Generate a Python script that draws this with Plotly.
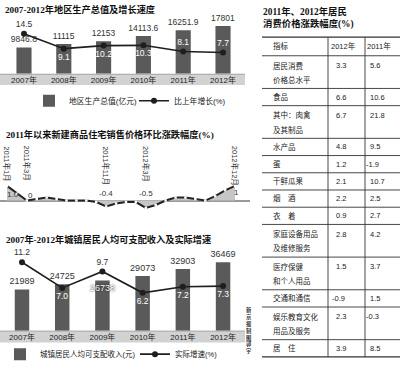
import plotly.graph_objects as go

W, H = 400, 369


def fx(x):
    return x / W


def fy(y):
    return 1 - y / H


# ---------------- data ----------------
years = ['2007年', '2008年', '2009年', '2010年', '2011年', '2012年']
gdp = [9846.8, 11115, 12153, 14113.6, 16251.9, 17801]
gdp_growth = [14.5, 9.1, 10.2, 10.3, 8.1, 7.7]

months = ['2011年1月', '2011年2月', '2011年3月', '2011年4月', '2011年5月', '2011年6月',
          '2011年7月', '2011年8月', '2011年9月', '2011年10月', '2011年11月', '2011年12月',
          '2012年1月', '2012年2月', '2012年3月', '2012年4月', '2012年5月', '2012年6月',
          '2012年7月', '2012年8月', '2012年9月', '2012年10月', '2012年11月', '2012年12月']
price_mom = [1.0, 0.5, 0.0, 0.1, 0.2, 0.1, 0.0, 0.0, 0.0, -0.1, -0.4, -0.2,
             -0.1, -0.1, -0.5, -0.3, 0.0, 0.2, 0.2, 0.1, 0.0, 0.3, 0.7, 1.0]
price_marked = ['2011年1月', '2011年3月', '2011年11月', '2012年3月', '2012年12月']
price_marked_text = ['1.0', '0', '-0.4', '-0.5', '1']

income = [21989, 24725, 26738, 29073, 32903, 36469]
income_growth = [11.2, 7.0, 9.7, 6.2, 7.2, 7.3]

cpi_items = [['居民消费', '价格总水平'], ['食品'], ['其中：肉禽', '及其制品'], ['水产品'], ['蛋'],
             ['干鲜瓜果'], ['烟　酒'], ['衣　着'], ['家庭设备用品', '及维修服务'],
             ['医疗保健', '和个人用品'], ['交通和通信'], ['娱乐教育文化', '用品及服务'], ['居　住']]
cpi_2012 = [3.3, 6.6, 6.7, 4.8, 1.2, 2.1, 2.2, 0.9, 2.8, 1.5, -0.9, 2.3, 3.9]
cpi_2011 = [5.6, 10.6, 21.8, 9.5, -1.9, 10.7, 2.5, 2.7, 4.2, 3.7, 1.5, -0.3, 8.5]
cpi_header = ['指标', '2012年', '2011年']

# ---------------- styles ----------------
SANS = 'Liberation Sans, Noto Sans CJK SC'
TITLE = 'Liberation Serif, Noto Sans CJK SC'
BAR = '#5a5a5a'
INK = '#1e1e1e'

fig = go.Figure()

# ---------- chart 1 ----------
fig.add_trace(go.Bar(
    x=years, y=gdp, xaxis='x', yaxis='y', name='地区生产总值(亿元)',
    marker=dict(color=BAR, line=dict(width=0)), width=0.38,
    text=[f'{v:g}' for v in gdp], textposition='outside', cliponaxis=False,
    constraintext='none', textangle=0,
    textfont=dict(size=8.5, color='#333', family=SANS), legend='legend'))
fig.add_trace(go.Scatter(
    x=years, y=gdp_growth, xaxis='x', yaxis='y2', name='比上年增长(%)',
    mode='lines+markers+text', line=dict(color=INK, width=1.6),
    marker=dict(size=6, color=INK), cliponaxis=False,
    text=[f'{v:g}' for v in gdp_growth],
    textposition=['top center', 'bottom center', 'bottom center', 'bottom center',
                  'top center', 'top center'],
    textfont=dict(size=8.5, family=SANS,
                  color=['#333', 'white', 'white', 'white', 'white', 'white']),
    legend='legend'))

# ---------- chart 2 ----------
fig.add_trace(go.Scatter(
    x=months, y=price_mom, xaxis='x2', yaxis='y3', mode='lines+markers',
    line=dict(color='#222', width=2), fill='tozeroy', fillcolor='#c6c6c6',
    marker=dict(size=2.5, color='white', symbol='square'), showlegend=False))

# ---------- chart 3 ----------
fig.add_trace(go.Bar(
    x=years, y=income, xaxis='x3', yaxis='y4', name='城镇居民人均可支配收入(元)',
    marker=dict(color=BAR, line=dict(width=0)), width=0.36,
    text=[f'{v:g}' for v in income],
    textposition=['outside', 'outside', 'inside', 'outside', 'outside', 'outside'],
    insidetextanchor='end', cliponaxis=False, constraintext='none', textangle=0,
    textfont=dict(size=9, family=SANS, color='#333'),
    outsidetextfont=dict(size=9, family=SANS, color='#333'),
    insidetextfont=dict(size=9, family=SANS, color='white', shadow='0px 0px 2px #000'),
    legend='legend2'))
fig.add_trace(go.Scatter(
    x=years, y=income_growth, xaxis='x3', yaxis='y5', name='实际增速(%)',
    mode='lines+markers+text', line=dict(color=INK, width=1.6),
    marker=dict(size=6, color=INK), cliponaxis=False,
    text=[f'{v:.1f}' for v in income_growth],
    textposition=['top center', 'bottom center', 'top center', 'bottom center',
                  'bottom center', 'bottom center'],
    textfont=dict(size=8.5, family=SANS,
                  color=['#333', 'white', '#333', 'white', 'white', 'white']),
    legend='legend2'))

# ---------- table (pixel-like axis; cells as annotations on that axis) ----------
HEAD_TOP, HEAD_H, LINE_H, DOUBLE_H = 38, 19, 17.6, 33.4
NAME_X, HEAD_X, VAL_X = 272, [330, 366], [335, 369]
NEG_SHIFT = 4
LINE_L, LINE_R = 262, 400
VLINES = [328, 365]

# invisible anchor trace so the table axes exist
fig.add_trace(go.Scatter(x=[LINE_L, LINE_R], y=[HEAD_TOP, HEAD_TOP], mode='lines',
                         line=dict(width=0), xaxis='x4', yaxis='y6', showlegend=False,
                         hoverinfo='skip'))

row_tops = [HEAD_TOP + HEAD_H]
for it in cpi_items:
    row_tops.append(row_tops[-1] + (LINE_H if len(it) == 1 else DOUBLE_H))

annotations = []
cell_font = dict(size=7.5, family=SANS, color='#222')


def cell(text, x, y):
    annotations.append(dict(text=text, x=x, y=y, xref='x4', yref='y6', xanchor='left',
                            yanchor='middle', showarrow=False, font=cell_font, borderpad=0))


head_y = HEAD_TOP + HEAD_H / 2
for t, x in zip(cpi_header, [NAME_X] + HEAD_X):
    cell(t, x, head_y)
for i, it in enumerate(cpi_items):
    top = row_tops[i]
    ys = [top + LINE_H / 2] if len(it) == 1 else [top + 10, top + 24.5]
    for t, yy in zip(it, ys):
        cell(t, NAME_X, yy)
    cell(f'{cpi_2012[i]:g}', VAL_X[0] - (NEG_SHIFT if cpi_2012[i] < 0 else 0), ys[0])
    cell(f'{cpi_2011[i]:g}', VAL_X[1] - (NEG_SHIFT if cpi_2011[i] < 0 else 0), ys[0])

shapes = []
hl = [HEAD_TOP] + row_tops
for k, yy in enumerate(hl):
    shapes.append(dict(type='line', xref='x4', yref='y6', x0=LINE_L, x1=LINE_R, y0=yy, y1=yy,
                       line=dict(color='#333', width=1.3 if k in (0, len(hl) - 1) else 0.9)))
for vx in VLINES:
    shapes.append(dict(type='line', xref='x4', yref='y6', x0=vx, x1=vx, y0=HEAD_TOP, y1=hl[-1],
                       line=dict(color='#333', width=0.9)))

# gray axis bands for charts 1 and 3
for top, bot in ((75.5, 87), (338, 350)):
    shapes.append(dict(type='rect', xref='paper', yref='paper', x0=0, x1=fx(245),
                       y0=fy(bot), y1=fy(top), fillcolor='#d2d2d2', line=dict(width=0),
                       layer='below'))
    shapes.append(dict(type='line', xref='paper', yref='paper', x0=0, x1=fx(245),
                       y0=fy(top + 0.5), y1=fy(top + 0.5), line=dict(color='#aaa', width=1),
                       layer='below'))

tt = dict(size=9.2, family=TITLE, color='#111')
annotations.append(dict(text='<b>2007-2012年地区生产总值及增长速度</b>', x=fx(3), y=fy(10),
                        xref='paper', yref='paper', xanchor='left', yanchor='middle',
                        showarrow=False, font=tt))
annotations.append(dict(text='<b>2011年以来新建商品住宅销售价格环比涨跌幅度(%)</b>', x=fx(4),
                        y=fy(137), xref='paper', yref='paper', xanchor='left',
                        yanchor='middle', showarrow=False, font=tt))
annotations.append(dict(text='<b>2007年-2012年城镇居民人均可支配收入及实际增速</b>', x=fx(4),
                        y=fy(245), xref='paper', yref='paper', xanchor='left',
                        yanchor='middle', showarrow=False, font=tt))
annotations.append(dict(text='<b>2011年、2012年居民<br>消费价格涨跌幅度(%)</b>', x=fx(261),
                        y=fy(18.5), xref='paper', yref='paper', xanchor='left',
                        yanchor='middle', align='left', showarrow=False,
                        font=dict(size=9.4, family=TITLE, color='#111')))

# vertical month labels and value labels on chart 2
label_shift = {'1.0': (6, -9), '0': (4, 5), '-0.4': (0, 13), '-0.5': (0, 14), '1': (1, -7)}
for m, t in zip(price_marked, price_marked_text):
    annotations.append(dict(text=m, x=m, y=fy(147), xref='x2', yref='paper', textangle=90,
                            xanchor='center', yanchor='top', showarrow=False,
                            font=dict(size=7.5, family=SANS, color='#333')))
    v = price_mom[months.index(m)]
    dx, dy = label_shift[t]
    annotations.append(dict(text=t, x=m, y=v, xref='x2', yref='y3', xshift=dx, yshift=dy,
                            showarrow=False, font=dict(size=8, family=SANS, color='#333')))

# credit
annotations.append(dict(text='<b>' + '<br>'.join('新京报制图郭宇') + '</b>', x=fx(249),
                        y=fy(338), xref='paper', yref='paper', xanchor='center',
                        yanchor='middle', showarrow=False,
                        font=dict(size=5.3, family='Noto Sans CJK SC', color='#333')))

axis_off = dict(visible=False, showgrid=False, zeroline=False, fixedrange=True)
xcat = dict(showgrid=False, zeroline=False, showline=False, ticks='',
            tickfont=dict(size=8, family=SANS, color='#222'), fixedrange=True)

fig.update_layout(
    width=W, height=H, margin=dict(l=0, r=0, t=0, b=0),
    paper_bgcolor='white', plot_bgcolor='rgba(0,0,0,0)',
    font=dict(family=SANS, size=8, color='#222'),
    xaxis=dict(domain=[0, 0.625], anchor='y', range=[-0.603, 5.678], **xcat),
    yaxis=dict(domain=[fy(75.5), fy(20)], anchor='x', range=[0, 20200], **axis_off),
    yaxis2=dict(overlaying='y', anchor='x', range=[0, 19.6], **axis_off),
    xaxis2=dict(domain=[0, 0.625], anchor='y3', range=[-0.706, 24.51], **axis_off),
    yaxis3=dict(domain=[fy(222), fy(140)], anchor='x2', range=[-1.133, 4.333],
                visible=True, showgrid=False, showticklabels=False, showline=False,
                ticks='', zeroline=True, zerolinecolor='#9a9a9a', zerolinewidth=2,
                fixedrange=True),
    xaxis3=dict(domain=[0, 0.625], anchor='y4', range=[-0.547, 5.67], **xcat),
    yaxis4=dict(domain=[fy(338), fy(255)], anchor='x3', range=[0, 43243], **axis_off),
    yaxis5=dict(overlaying='y4', anchor='x3', range=[0, 13.3], **axis_off),
    xaxis4=dict(domain=[fx(255), 1], anchor='y6', range=[255, 400], **axis_off),
    yaxis6=dict(domain=[0, 1], anchor='x4', range=[369, 0], **axis_off),
    legend=dict(orientation='h', x=fx(29), y=fy(103), xanchor='left', yanchor='middle',
                font=dict(size=7.8, family=SANS), bgcolor='rgba(0,0,0,0)',
                entrywidth=60, entrywidthmode='pixels', itemwidth=30),
    legend2=dict(orientation='h', x=0, y=fy(362), xanchor='left', yanchor='middle',
                 font=dict(size=7.5, family=SANS), bgcolor='rgba(0,0,0,0)',
                 entrywidth=90, entrywidthmode='pixels', itemwidth=30),
    shapes=shapes, annotations=annotations, bargap=0.2,
)

fig.write_html('out.html', config={'displayModeBar': False},
               post_script="document.body.style.margin='0';"
                           "document.body.style.overflow='hidden';")
